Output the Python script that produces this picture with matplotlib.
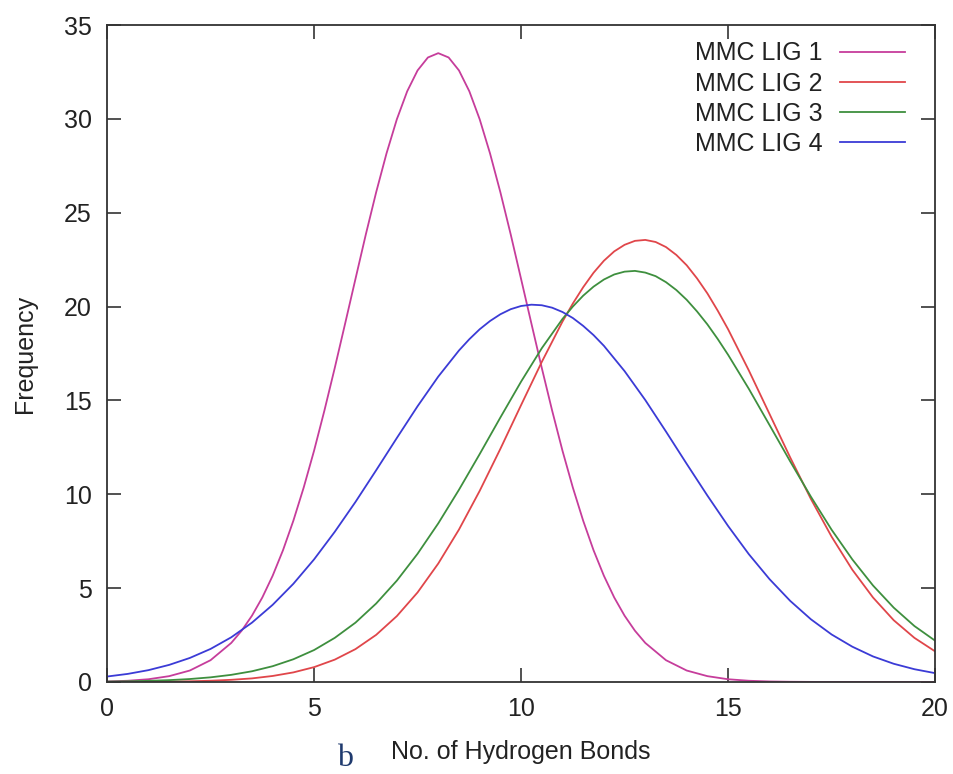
import numpy as np
import matplotlib
matplotlib.use('Agg')
import matplotlib.pyplot as plt

plt.rcParams['font.family'] = ['Liberation Sans', 'DejaVu Sans']

# hydrogen bond counts (x) and frequencies
# (extra points near the peaks where the curves bend sharply)
bonds1 = [0, 0.5, 1, 1.5, 2, 2.5, 3, 3.25, 3.5, 3.75, 4, 4.25, 4.5, 4.75, 5, 5.25, 5.5,
          5.75, 6, 6.25, 6.5, 6.75, 7, 7.25, 7.5, 7.75, 8, 8.25, 8.5, 8.75, 9, 9.25, 9.5,
          9.75, 10, 10.25, 10.5, 10.75, 11, 11.25, 11.5, 11.75, 12, 12.25, 12.5, 12.75,
          13, 13.5, 14, 14.5, 15, 15.5, 16, 16.5, 17, 17.5, 18, 18.5, 19, 19.5, 20]
lig1 = [0.027, 0.065, 0.145, 0.31, 0.61, 1.16, 2.08, 2.73, 3.53, 4.50, 5.66, 7.02, 8.59,
        10.36, 12.32, 14.46, 16.73, 19.09, 21.47, 23.84, 26.09, 28.16, 29.98, 31.47, 32.58,
        33.27, 33.5, 33.27, 32.58, 31.47, 29.98, 28.16, 26.09, 23.84, 21.47, 19.09, 16.73,
        14.46, 12.32, 10.36, 8.59, 7.02, 5.66, 4.50, 3.53, 2.73, 2.08, 1.16, 0.61, 0.31,
        0.145, 0.065, 0.027, 0.011, 0.004, 0.001, 0.0005, 0, 0, 0, 0]

bonds2 = [0, 0.5, 1, 1.5, 2, 2.5, 3, 3.5, 4, 4.5, 5, 5.5, 6, 6.5, 7, 7.5, 8, 8.5, 9, 9.5,
          10, 10.5, 11, 11.25, 11.5, 11.75, 12, 12.25, 12.5, 12.75, 13, 13.25, 13.5, 13.75,
          14, 14.25, 14.5, 14.75, 15, 15.5, 16, 16.5, 17, 17.5, 18, 18.5, 19, 19.5, 20]
lig2 = [0.003, 0.006, 0.011, 0.020, 0.037, 0.066, 0.115, 0.19, 0.32, 0.51, 0.79, 1.19,
        1.75, 2.51, 3.51, 4.77, 6.31, 8.12, 10.18, 12.42, 14.75, 17.05, 19.20, 20.16, 21.03,
        21.80, 22.44, 22.94, 23.29, 23.50, 23.55, 23.44, 23.17, 22.75, 22.20, 21.50, 20.70,
        19.78, 18.79, 16.60, 14.28, 11.96, 9.75, 7.74, 5.98, 4.50, 3.29, 2.35, 1.63]

bonds3 = bonds2
lig3 = [0.021, 0.036, 0.060, 0.098, 0.157, 0.247, 0.38, 0.57, 0.84, 1.21, 1.70, 2.35,
        3.16, 4.18, 5.40, 6.83, 8.45, 10.24, 12.14, 14.09, 16.00, 17.78, 19.34, 20.00, 20.58,
        21.06, 21.44, 21.71, 21.86, 21.90, 21.81, 21.62, 21.30, 20.88, 20.36, 19.74, 19.05,
        18.27, 17.43, 15.62, 13.69, 11.75, 9.87, 8.11, 6.53, 5.14, 3.96, 2.98, 2.20]

bonds4 = [0, 0.5, 1, 1.5, 2, 2.5, 3, 3.5, 4, 4.5, 5, 5.5, 6, 6.5, 7, 7.5, 8, 8.5, 8.75, 9,
          9.25, 9.5, 9.75, 10, 10.25, 10.5, 10.75, 11, 11.25, 11.5, 11.75, 12, 12.5, 13,
          13.5, 14, 14.5, 15, 15.5, 16, 16.5, 17, 17.5, 18, 18.5, 19, 19.5, 20]
lig4 = [0.29, 0.43, 0.63, 0.91, 1.28, 1.76, 2.38, 3.16, 4.11, 5.23, 6.53, 8.00, 9.59,
        11.28, 13.00, 14.69, 16.27, 17.66, 18.26, 18.79, 19.23, 19.59, 19.86, 20.03, 20.10,
        20.07, 19.94, 19.71, 19.39, 18.97, 18.48, 17.91, 16.56, 15.02, 13.34, 11.62, 9.93,
        8.31, 6.81, 5.48, 4.32, 3.34, 2.53, 1.88, 1.36, 0.97, 0.68, 0.47]

labels = ['MMC LIG 1', 'MMC LIG 2', 'MMC LIG 3', 'MMC LIG 4']
colors = ['#c63d9b', '#e0464a', '#3e8f3e', '#3b3bd6']

fig = plt.figure(figsize=(9.54, 7.74), dpi=100)
ax = fig.add_axes([0.1122, 0.1189, 0.868, 0.8488])

series = [(bonds1, lig1), (bonds2, lig2), (bonds3, lig3), (bonds4, lig4)]
for (xs, ys), lab, c in zip(series, labels, colors):
    ax.plot(xs, ys, color=c, lw=1.3, label=lab, solid_joinstyle='round')

ax.set_xlim(0, 20)
ax.set_ylim(0, 35)
ax.set_xticks([0, 5, 10, 15, 20])
ax.set_yticks([0, 5, 10, 15, 20, 25, 30, 35])
ax.tick_params(direction='in', length=10, width=1.2, color='#333333',
               top=True, right=True, labelsize=18, labelcolor='#222222')
ax.tick_params(axis='y', pad=11)
ax.tick_params(axis='x', pad=10.5)
for sp in ax.spines.values():
    sp.set_color('#333333')
    sp.set_linewidth(1.3)

ax.set_ylabel('Frequency', fontsize=18, color='#222222', labelpad=19)
ax.set_xlabel('No. of Hydrogen Bonds', fontsize=18, color='#222222', labelpad=14)
fig.text(0.3532, 0.0103, 'b', fontsize=23, color='#1f3a6e', family='Liberation Serif',
         va='baseline')

leg = ax.legend(loc='upper right', bbox_to_anchor=(0.9638, 0.975), frameon=False,
                markerfirst=False, fontsize=18, handlelength=2.6, labelspacing=0.25,
                handletextpad=0.72, borderpad=0, borderaxespad=0)
for t in leg.get_texts():
    t.set_color('#222222')

fig.savefig('out.png', dpi=100)
